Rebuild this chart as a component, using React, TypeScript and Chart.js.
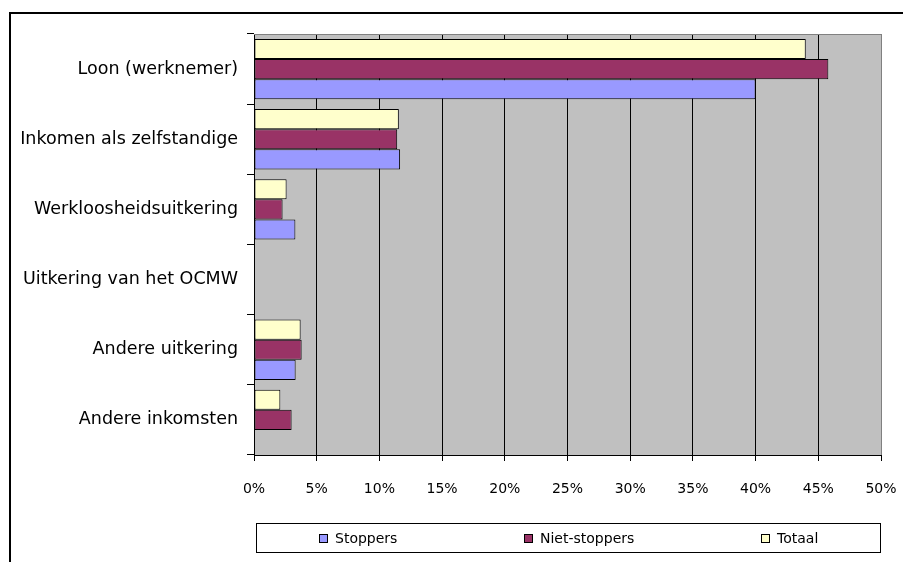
import React, { useEffect, useRef } from 'react';
import { Chart, registerables } from 'chart.js';

Chart.register(...registerables);

const categories = [
  'Loon (werknemer)',
  'Inkomen als zelfstandige',
  'Werkloosheidsuitkering',
  'Uitkering van het OCMW',
  'Andere uitkering',
  'Andere inkomsten',
];
const stoppers = [40.0, 11.65, 3.3, 0, 3.32, 0];
const nietStoppers = [45.8, 11.42, 2.28, 0, 3.8, 3.0];
const totaal = [44.0, 11.55, 2.6, 0, 3.72, 2.1];
const seriesNames = ['Stoppers', 'Niet-stoppers', 'Totaal'];
const seriesColors = ['#9999FF', '#993366', '#FFFFCC'];
const xTickLabels = ['0%', '5%', '10%', '15%', '20%', '25%', '30%', '35%', '40%', '45%', '50%'];

const FONT = 'DejaVu Sans';

const framePlugin = {
  id: 'frameAndPlot',
  beforeDraw(chart: any) {
    const { ctx, chartArea } = chart;
    ctx.save();
    ctx.fillStyle = '#FFFFFF';
    ctx.fillRect(0, 0, chart.width, chart.height);
    ctx.fillStyle = '#000000';
    ctx.fillRect(9, 12, 2, chart.height);
    ctx.fillRect(9, 12, chart.width, 2);
    ctx.fillStyle = '#C0C0C0';
    ctx.fillRect(chartArea.left, chartArea.top, chartArea.right - chartArea.left, chartArea.bottom - chartArea.top);
    ctx.restore();
  },
  beforeDatasetsDraw(chart: any) {
    const { ctx, chartArea } = chart;
    ctx.save();
    ctx.strokeStyle = '#808080';
    ctx.lineWidth = 1;
    ctx.beginPath();
    ctx.moveTo(chartArea.left, Math.round(chartArea.top) + 0.5);
    ctx.lineTo(chartArea.right + 0.5, Math.round(chartArea.top) + 0.5);
    ctx.stroke();
    ctx.restore();
  },
};

const boxLegendPlugin = {
  id: 'boxLegend',
  afterDraw(chart: any) {
    const { ctx, chartArea } = chart;
    const left = Math.round(chartArea.left) + 2;
    const right = Math.round(chartArea.right);
    const top = 523;
    const h = 30;
    ctx.save();
    ctx.fillStyle = '#FFFFFF';
    ctx.fillRect(left, top, right - left, h);
    ctx.strokeStyle = '#000000';
    ctx.lineWidth = 1;
    ctx.strokeRect(left + 0.5, top + 0.5, right - left - 1, h - 1);
    ctx.font = `14px "${FONT}"`;
    ctx.textBaseline = 'middle';
    ctx.textAlign = 'left';
    const items = chart.data.datasets.slice().reverse().map((d: any) => ({
      text: d.label,
      color: d.backgroundColor,
    }));
    const sq = 9;
    const gapText = 7;
    const widths = items.map((it: any) => sq + gapText + ctx.measureText(it.text).width);
    const sum = widths.reduce((a: number, b: number) => a + b, 0);
    const G = (right - left - sum) / items.length;
    let x = left + G / 2;
    const cy = top + h / 2;
    items.forEach((it: any, i: number) => {
      const sx = Math.round(x);
      const sy = Math.round(cy - sq / 2);
      ctx.fillStyle = it.color;
      ctx.fillRect(sx, sy, sq, sq);
      ctx.strokeStyle = '#000000';
      ctx.strokeRect(sx + 0.5, sy + 0.5, sq - 1, sq - 1);
      ctx.fillStyle = '#000000';
      ctx.fillText(it.text, sx + sq + gapText, cy + 1);
      x += widths[i] + G;
    });
    ctx.restore();
  },
};

export default function App() {
  const ref = useRef<HTMLCanvasElement | null>(null);

  useEffect(() => {
    if (!ref.current) return;
    const seriesData = [stoppers, nietStoppers, totaal];
    const order = [2, 1, 0];
    const chart = new Chart(ref.current, {
      type: 'bar',
      data: {
        labels: categories,
        datasets: order.map((i) => ({
          label: seriesNames[i],
          data: seriesData[i],
          backgroundColor: seriesColors[i],
          borderColor: '#000000',
          borderWidth: 1,
          borderSkipped: false,
          barPercentage: 1,
          categoryPercentage: 0.86,
        })),
      },
      options: {
        indexAxis: 'y',
        responsive: false,
        animation: false,
        events: [],
        devicePixelRatio: 1,
        layout: { padding: { left: 0, right: 22, top: 34, bottom: 47 } },
        plugins: {
          legend: { display: false },
          tooltip: { enabled: false },
          title: { display: false },
        },
        scales: {
          x: {
            type: 'linear',
            min: 0,
            max: 50,
            ticks: {
              stepSize: 5,
              color: '#000000',
              padding: 20,
              font: { family: FONT, size: 14 },
              callback: (_v: any, index: number) => xTickLabels[index],
            },
            grid: {
              color: (c: any) => (c.index === xTickLabels.length - 1 ? '#808080' : '#000000'),
              tickColor: '#000000',
              tickLength: 6,
              lineWidth: 1,
            },
            border: { color: '#000000', width: 1 },
            afterFit: (s: any) => {
              s.height = 60;
              s.paddingLeft = 0;
              s.paddingRight = 0;
            },
          },
          y: {
            type: 'category',
            ticks: {
              color: '#000000',
              padding: 9,
              font: { family: FONT, size: 17.5 },
            },
            grid: {
              offset: true,
              drawOnChartArea: false,
              drawTicks: true,
              tickLength: 7,
              color: '#000000',
              tickColor: '#000000',
            },
            border: { color: '#000000', width: 1 },
            afterFit: (s: any) => {
              s.width = 254;
              s.paddingTop = 0;
              s.paddingBottom = 0;
            },
          },
        },
      },
      plugins: [framePlugin, boxLegendPlugin],
    } as any);
    return () => chart.destroy();
  }, []);

  return (
    <canvas
      ref={ref}
      width={903}
      height={562}
      style={{ position: 'fixed', left: 0, top: 0, width: '903px', height: '562px', display: 'block' }}
    />
  );
}
